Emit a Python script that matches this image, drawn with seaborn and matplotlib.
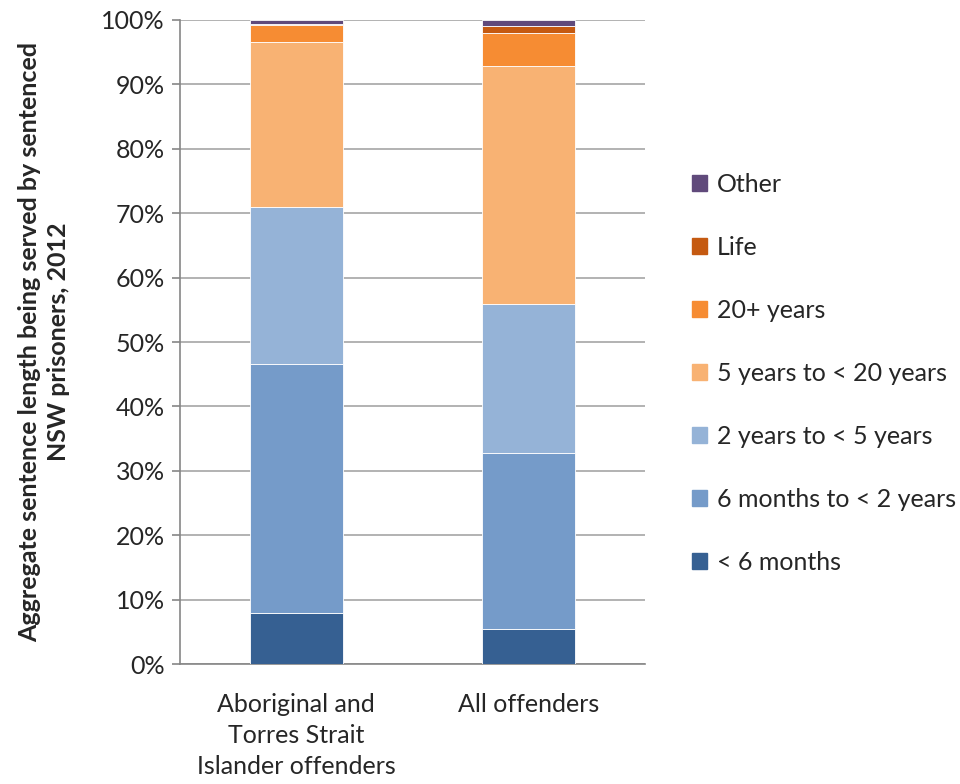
import numpy as np
import pandas as pd
import matplotlib.pyplot as plt
import seaborn as sns

# Sentence length shares (%) per group, bottom segment first
groups = ['Aboriginal and\nTorres Strait\nIslander offenders', 'All offenders']
categories = ['< 6 months', '6 months to < 2 years', '2 years to < 5 years',
              '5 years to < 20 years', '20+ years', 'Life', 'Other']
aboriginal = [8.0, 38.6, 24.4, 25.6, 2.6, 0.2, 0.6]
all_offenders = [5.5, 27.3, 23.1, 37.0, 5.1, 1.1, 0.9]
colors = ['#366092', '#759bc9', '#95b3d7', '#f8b273', '#f68c33', '#c55a11', '#604a7b']

sns.set_style('white')
plt.rcParams['font.family'] = ['Lato', 'DejaVu Sans']

values = np.array([aboriginal, all_offenders])  # rows: groups
bottoms = np.vstack([np.zeros(2), np.cumsum(values, axis=1)[:, :-1].T]).T

fig = plt.figure(figsize=(9.6, 7.84), dpi=100)
ax = fig.add_axes([0.1875, 0.153, 0.4845, 0.8215])

handles = []
for i, cat in enumerate(categories):
    df = pd.DataFrame({'group': groups, 'value': values[:, i]})
    sns.barplot(data=df, x='group', y='value', color=colors[i], width=0.4,
                bottom=bottoms[:, i], edgecolor='white', linewidth=0.6,
                saturation=1, ax=ax, zorder=3)
    handles.append(plt.Rectangle((0, 0), 1, 1, color=colors[i], label=cat))

ax.set_xlim(-0.5, 1.5)
ax.set_ylim(0, 100)
ax.set_yticks(np.arange(0, 101, 10))
ax.set_yticklabels([f'{v}%' for v in range(0, 101, 10)], fontsize=18)
ax.set_xticks([0, 1])
ax.set_xticklabels(groups, fontsize=18, linespacing=1.42)
ax.tick_params(axis='x', length=0, pad=21)
ax.set_xticks([-0.5, 0.5, 1.5], minor=True)
ax.tick_params(axis='x', which='minor', length=6, color='#868686', width=1.2)
ax.tick_params(axis='y', length=6, color='#868686', width=1.2, left=True, pad=5)
ax.grid(axis='y', color='#a6a6a6', linewidth=1.2, zorder=0)
ax.set_axisbelow(True)
for s in ['top', 'right']:
    ax.spines[s].set_visible(False)
for s in ['left', 'bottom']:
    ax.spines[s].set_color('#868686')
    ax.spines[s].set_linewidth(1.2)
ax.set_xlabel('')
ax.set_ylabel('Aggregate sentence length being served by sentenced\nNSW prisoners, 2012',
              fontsize=18, fontweight='bold', linespacing=1.3)
ax.yaxis.set_label_coords(-0.237, 0.5)

fig.legend(handles=handles[::-1], loc='center left', bbox_to_anchor=(0.697, 0.524),
           frameon=False, fontsize=18, handlelength=0.6, handleheight=0.6,
           handletextpad=0.4, labelspacing=1.6)

plt.savefig('out.png', dpi=100)
